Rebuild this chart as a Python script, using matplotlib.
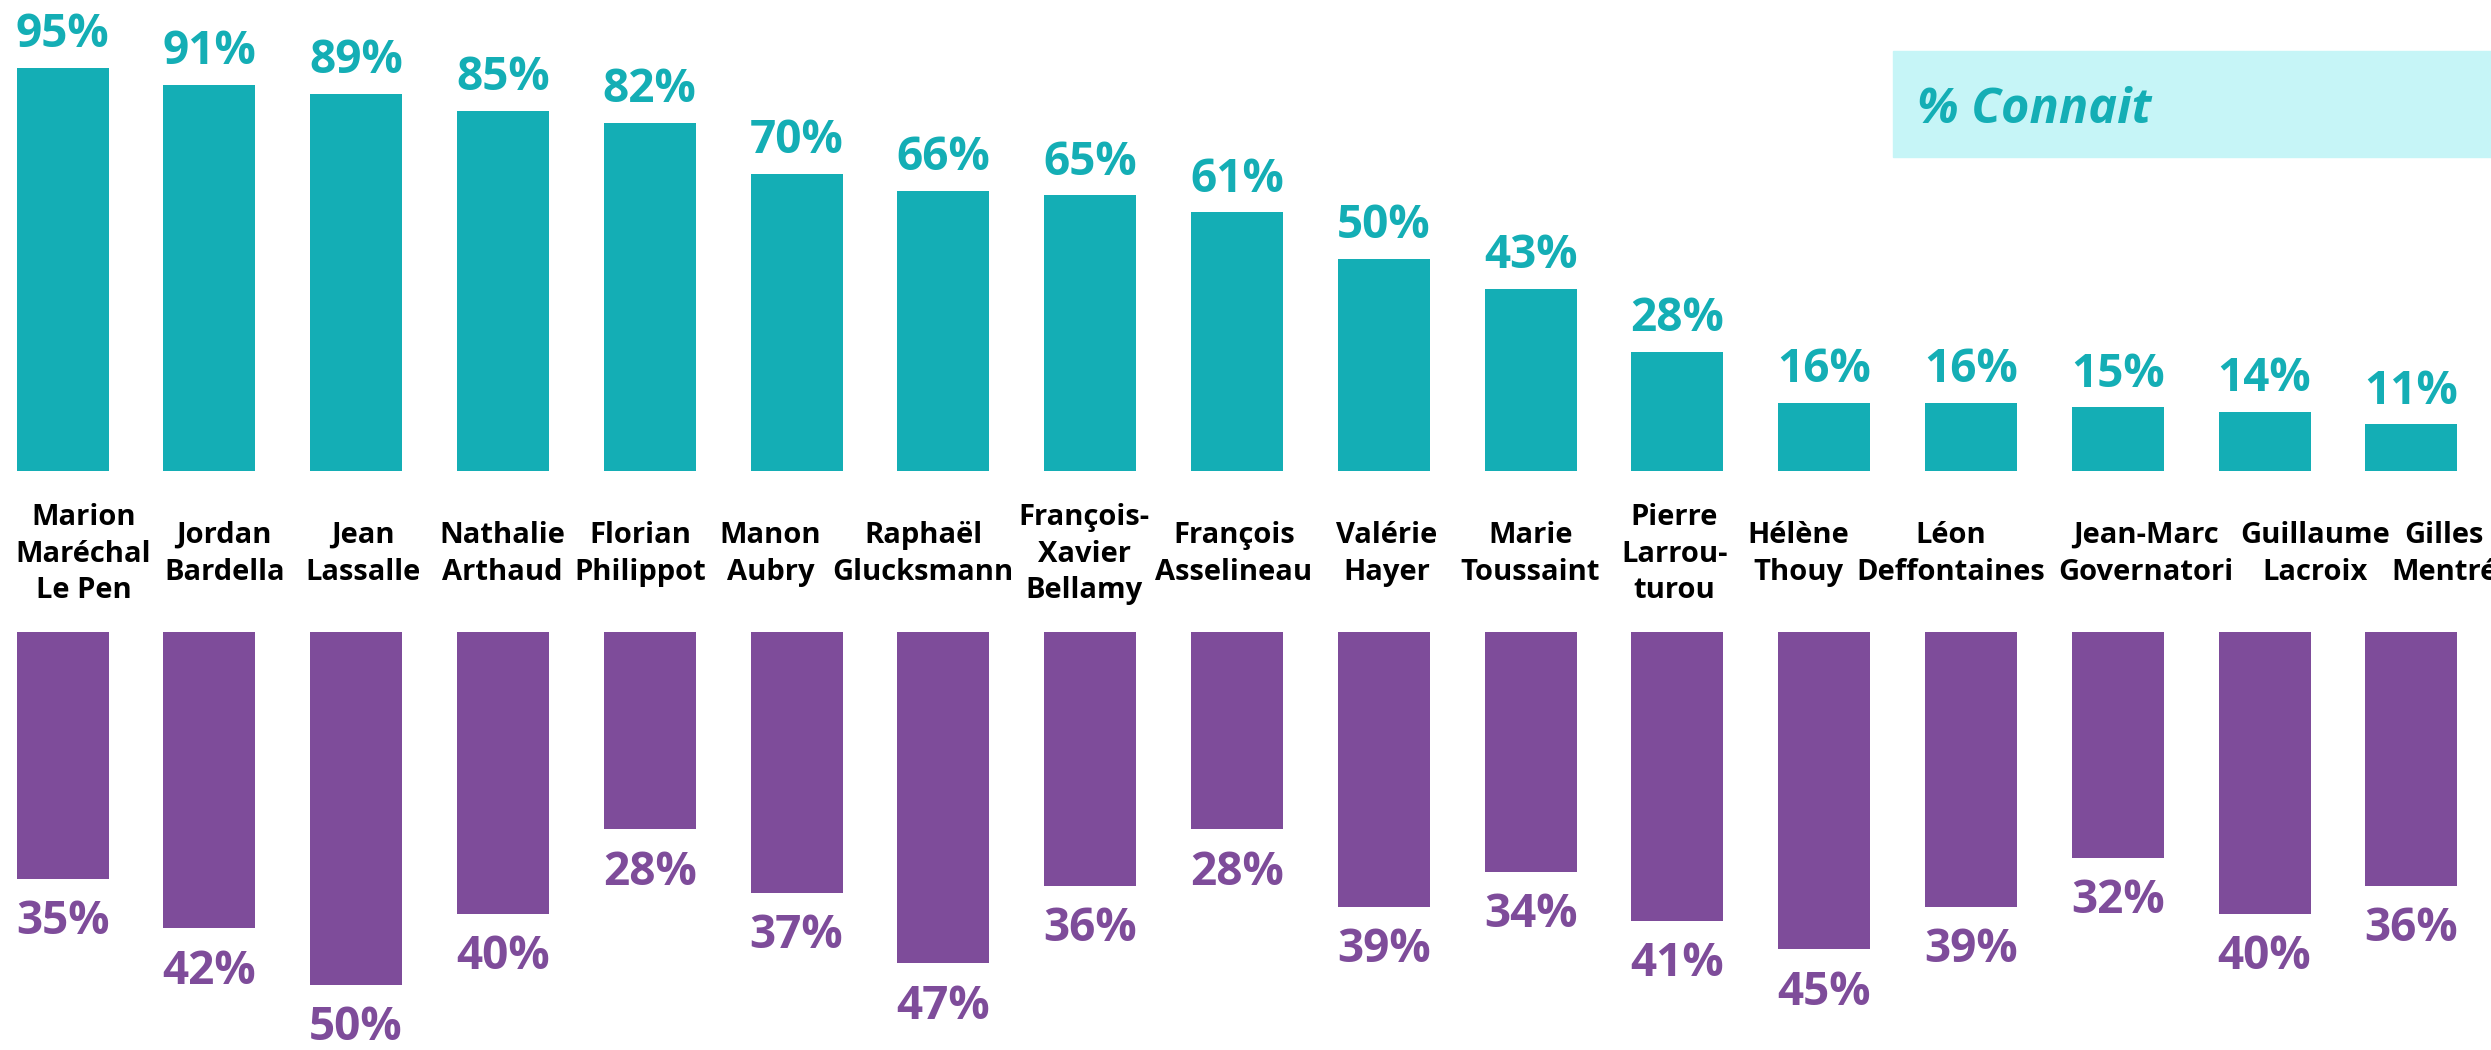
import matplotlib
matplotlib.use("Agg")
import matplotlib.pyplot as plt
from matplotlib.patches import Rectangle

# candidates, left to right
names = [
    "Marion\nMaréchal\nLe Pen", "Jordan\nBardella", "Jean\nLassalle",
    "Nathalie\nArthaud", "Florian\nPhilippot", "Manon\nAubry",
    "Raphaël\nGlucksmann", "François-\nXavier\nBellamy", "François\nAsselineau",
    "Valérie\nHayer", "Marie\nToussaint", "Pierre\nLarrou-\nturou",
    "Hélène\nThouy", "Léon\nDeffontaines", "Jean-Marc\nGovernatori",
    "Guillaume\nLacroix", "Gilles\nMentré",
]
pct_connait = [95, 91, 89, 85, 82, 70, 66, 65, 61, 50, 43, 28, 16, 16, 15, 14, 11]
pct_lower = [35, 42, 50, 40, 28, 37, 47, 36, 28, 39, 34, 41, 45, 39, 32, 40, 36]

# small horizontal nudges (px) for the name labels
name_nudge = [21, 15, 7, -1, -9, -26, -20, -6, -3, 3, 0, -3, -26, -20, 28, 51, 33]

TEAL = "#14AEB5"
PURPLE = "#7E4C9A"
LEGEND_BG = "#C6F5F7"
FONT = ["Open Sans", "DejaVu Sans"]

W, H, DPI = 2491, 1050, 100
fig = plt.figure(figsize=(W / DPI, H / DPI), dpi=DPI)

step_px = 146.8
x0_px = 62.5
bar_w = 92 / step_px
xlim = (-x0_px / step_px, (W - x0_px) / step_px)
x = list(range(len(names)))

# upper panel: "% Connait"
base_top = 471
scale_top = 4.24
ax_top = fig.add_axes([0, (H - base_top) / H, 1, base_top / H])
ax_top.bar(x, pct_connait, width=bar_w, color=TEAL)
ax_top.set_xlim(*xlim)
ax_top.set_ylim(0, base_top / scale_top)
ax_top.axis("off")
for xi, v in zip(x, pct_connait):
    ax_top.annotate(f"{v}%", (xi, v), xytext=(0, 15), textcoords="offset points",
                    ha="center", va="baseline", fontsize=33, fontweight="bold",
                    color=TEAL, family=FONT)

# lower panel, hanging down
top_low = 632
scale_low = 7.05
ax_low = fig.add_axes([0, 0, 1, (H - top_low) / H])
ax_low.bar(x, pct_lower, width=bar_w, color=PURPLE)
ax_low.set_xlim(*xlim)
ax_low.set_ylim((H - top_low) / scale_low, 0)
ax_low.axis("off")
for xi, v in zip(x, pct_lower):
    ax_low.annotate(f"{v}%", (xi, v), xytext=(0, -14), textcoords="offset points",
                    ha="center", va="top", fontsize=33, fontweight="bold",
                    color=PURPLE, family=FONT)

# names between the two panels
name_y = 1 - 554 / H
for xi, name, dx in zip(x, names, name_nudge):
    fx = (x0_px + xi * step_px + dx) / W
    fig.text(fx, name_y, name, ha="center", va="center", fontsize=21,
             fontweight="bold", color="black", family=FONT, linespacing=1.36,
             multialignment="center")

# legend tag
fig.patches.append(Rectangle((1893 / W, 1 - 157 / H), (W - 1893) / W, 106 / H,
                             transform=fig.transFigure, color=LEGEND_BG, zorder=0))
fig.text(1917 / W, 1 - 123 / H, "% Connait", ha="left", va="baseline",
         fontsize=35, fontweight="bold", fontstyle="italic", color=TEAL, family=FONT)

fig.savefig("out.png", dpi=DPI)
